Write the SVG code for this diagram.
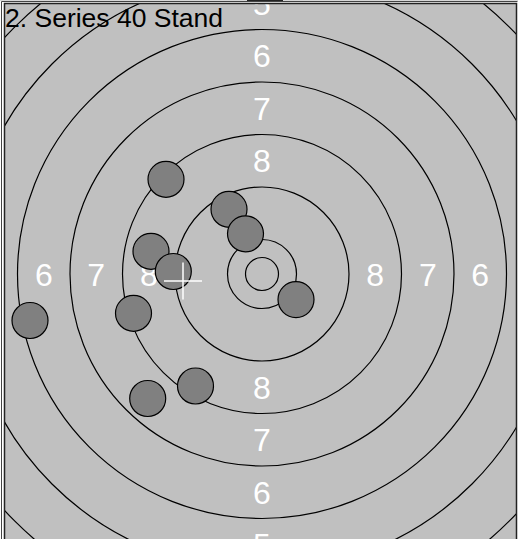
<svg xmlns="http://www.w3.org/2000/svg" width="518" height="539" viewBox="0 0 518 539">
  <defs>
    <style>
      .ring { fill: none; stroke: #000; stroke-width: 1.2; }
      .lbl { fill: #fff; font-family: "Liberation Sans", Arial, sans-serif; font-size: 32px; text-anchor: middle; }
      .shot { fill: #808080; stroke: #000; stroke-width: 1.2; }
      .title { fill: #000; font-family: "Liberation Sans", Arial, sans-serif; font-size: 26.5px; }
    </style>
    <clipPath id="panel">
      <rect x="4.5" y="3.5" width="512" height="540"/>
    </clipPath>
  </defs>
  <rect x="0" y="0" width="518" height="539" fill="#fff"/>
  <line x1="0" y1="0.5" x2="518" y2="0.5" stroke="#d8d8d8" stroke-width="1"/>
  <line x1="247" y1="0.5" x2="283" y2="0.5" stroke="#222" stroke-width="1"/>
  <line x1="1.5" y1="1.5" x2="517.5" y2="1.5" stroke="#444" stroke-width="1"/>
  <line x1="1.5" y1="1.5" x2="1.5" y2="539" stroke="#444" stroke-width="1"/>
  <g clip-path="url(#panel)">
    <rect x="4.5" y="3.5" width="512" height="540" fill="#c0c0c0"/>
    <g id="rings">
      <circle class="ring" cx="262" cy="274" r="16.5"/>
      <circle class="ring" cx="262" cy="274" r="34.5"/>
      <circle class="ring" cx="262" cy="274" r="87"/>
      <circle class="ring" cx="262" cy="274" r="139.5"/>
      <circle class="ring" cx="262" cy="274" r="192"/>
      <circle class="ring" cx="262" cy="274" r="244.5"/>
      <circle class="ring" cx="262" cy="274" r="297"/>
      <circle class="ring" cx="262" cy="274" r="349.5"/>
    </g>
    <g id="labels">
      <text class="lbl" x="262" y="14.7">5</text>
      <text class="lbl" x="262" y="67.2">6</text>
      <text class="lbl" x="262" y="119.7">7</text>
      <text class="lbl" x="262" y="172.2">8</text>
      <text class="lbl" x="262" y="398.7">8</text>
      <text class="lbl" x="262" y="451.2">7</text>
      <text class="lbl" x="262" y="503.7">6</text>
      <text class="lbl" x="262" y="556.2">5</text>
      <text class="lbl" x="43.8" y="285.5">6</text>
      <text class="lbl" x="96.2" y="285.5">7</text>
      <text class="lbl" x="148.8" y="285.5">8</text>
      <text class="lbl" x="375.2" y="285.5">8</text>
      <text class="lbl" x="427.8" y="285.5">7</text>
      <text class="lbl" x="480.2" y="285.5">6</text>
    </g>
    <g id="shots">
      <circle class="shot" cx="166" cy="179.3" r="18"/>
      <circle class="shot" cx="229" cy="209.3" r="18"/>
      <circle class="shot" cx="245.5" cy="233.8" r="18"/>
      <circle class="shot" cx="151" cy="251.3" r="18"/>
      <circle class="shot" cx="173.3" cy="271.5" r="18"/>
      <circle class="shot" cx="296" cy="299.6" r="18"/>
      <circle class="shot" cx="133.5" cy="313.3" r="18"/>
      <circle class="shot" cx="30" cy="320.5" r="18"/>
      <circle class="shot" cx="147.7" cy="398.5" r="18"/>
      <circle class="shot" cx="195.5" cy="386" r="18"/>
    </g>
    <g id="crosshair" stroke="#fff" stroke-width="1.5">
      <line x1="164" y1="281" x2="202" y2="281"/>
      <line x1="183" y1="262.5" x2="183" y2="299.5"/>
    </g>
    <text class="title" x="5" y="27">2. Series 40 Stand</text>
  </g>
  <rect x="4.5" y="3.5" width="512" height="540" fill="none" stroke="#222" stroke-width="1.5"/>
</svg>
